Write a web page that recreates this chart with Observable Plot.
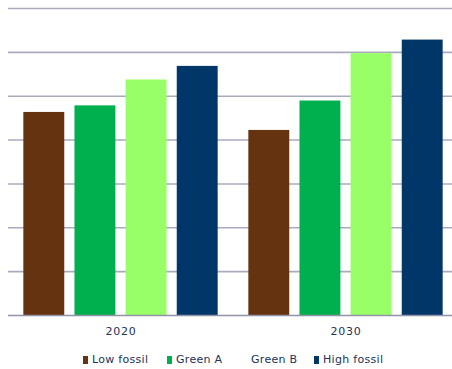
<!DOCTYPE html>
<html>
<head>
<meta charset="utf-8">
<script src="https://cdn.jsdelivr.net/npm/d3@7"></script>
<script src="https://cdn.jsdelivr.net/npm/@observablehq/plot@0.6"></script>
<style>
  html, body { margin: 0; padding: 0; background: #fff; overflow: hidden; }
  #chart { width: 452px; overflow: hidden; }
  #chart svg { max-width: none !important; display: block; }
  .legend { display: flex; align-items: center; margin-top: 13px; padding-left: 83px; font: 11px "DejaVu Sans", sans-serif; letter-spacing: 0.3px; color: #22335a; line-height: 14px; white-space: nowrap; }
  .legend .item { display: inline-flex; align-items: center; }
  .legend .sw { width: 5px; height: 8px; margin-right: 4px; display: inline-block; }
</style>
</head>
<body>
<div id="chart"></div>
<script>
const years = ["2020", "2030"];
const series = ["Low fossil", "Green A", "Green B", "High fossil"];
const colors = ["#653310", "#00b04f", "#99ff66", "#003768"];
const legendColors = ["#653310", "#00b04f", "#ffffff", "#003768"];
const values2020 = [4.63, 4.78, 5.37, 5.68];
const values2030 = [4.22, 4.89, 5.97, 6.28];
const gridTicks = [1, 2, 3, 4, 5, 6, 7];
const legendItemWidths = [84, 75, 72, 80];

const byYear = { "2020": values2020, "2030": values2030 };
const data = years.flatMap(y => series.map((s, j) => ({ year: y, series: s, value: byYear[y][j] })));

const chart = Plot.plot({
  width: 458,
  height: 340,
  marginLeft: 8,
  marginRight: 0,
  marginTop: 8,
  marginBottom: 25,
  style: { fontFamily: "DejaVu Sans, sans-serif", fontSize: "11px", color: "#22335a", background: "#fff" },
  fx: { domain: years, paddingInner: 0, paddingOuter: 0, round: false, label: null, axis: "bottom", tickSize: 0, tickPadding: 12 },
  x: { domain: series, axis: null, round: false, paddingInner: 0.2, paddingOuter: 0.3 },
  y: { domain: [0, 7], axis: null },
  color: { domain: series, range: colors },
  marks: [
    Plot.ruleY(gridTicks, { stroke: "#a9abbd", strokeWidth: 1.6 }),
    Plot.barY(data, { fx: "year", x: "series", y: "value", fill: "series" }),
    Plot.ruleY([0], { stroke: "#9194a6", strokeWidth: 1.6 })
  ]
});
chart.querySelectorAll("text").forEach(t => t.setAttribute("letter-spacing", "0.8"));
document.getElementById("chart").append(chart);

const legend = document.createElement("div");
legend.className = "legend";
series.forEach((s, i) => {
  const item = document.createElement("span");
  item.className = "item";
  item.style.width = legendItemWidths[i] + "px";
  const sw = document.createElement("span");
  sw.className = "sw";
  sw.style.background = legendColors[i];
  item.append(sw, document.createTextNode(s));
  legend.append(item);
});
document.body.append(legend);
</script>
</body>
</html>
